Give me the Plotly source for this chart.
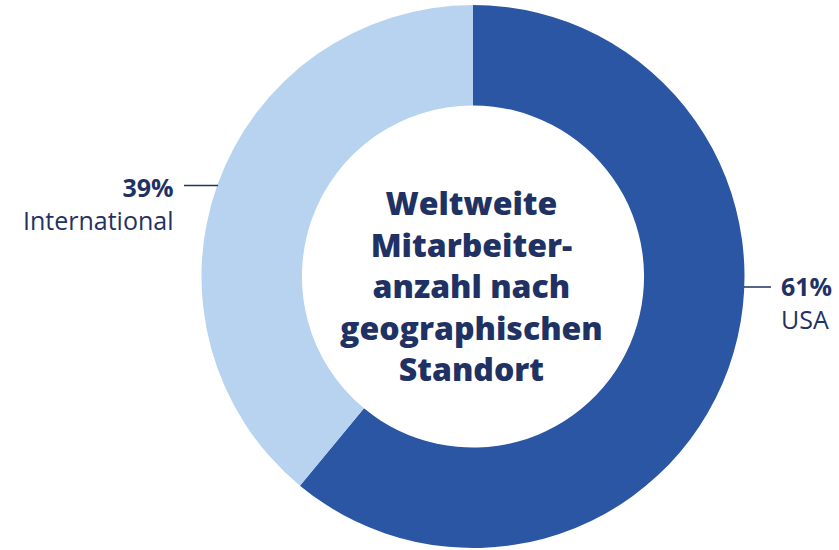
import plotly.graph_objects as go

categories = ["USA", "International"]
values = [61, 39]
pct_labels = ["61%", "39%"]
colors = ["#2b56a4", "#b8d3f0"]
title_lines = ["Weltweite", "Mitarbeiter-", "anzahl nach", "geographischen", "Standort"]

W, H = 839, 550
NAVY = "#1f3263"

fig = go.Figure(go.Pie(
    labels=categories, values=values, hole=0.63, sort=False,
    direction="clockwise", rotation=0, textinfo="none", hoverinfo="label+percent",
    marker=dict(colors=colors, line=dict(width=0)),
    domain=dict(x=[201.5 / W, 744.5 / W], y=[2 / H, 545 / H]),
    showlegend=False,
))

def px(x):
    return x / W

def py(y):
    return 1 - y / H

annotations = [
    dict(text="<br>".join(title_lines), x=px(471), y=py(285),
         font=dict(family="Open Sans", size=32, color=NAVY, weight=800), showarrow=False,
         xanchor="center", yanchor="middle", align="center"),
    dict(text="<b>" + pct_labels[1] + "</b><br>" + categories[1], x=px(176), y=py(203),
         showarrow=False, xanchor="right", yanchor="middle", align="right",
         font=dict(family="Open Sans", size=25, color=NAVY)),
    dict(text="<b>" + pct_labels[0] + "</b><br>" + categories[0], x=px(779), y=py(302),
         showarrow=False, xanchor="left", yanchor="middle", align="left",
         font=dict(family="Open Sans", size=25, color=NAVY)),
]

shapes = [
    dict(type="line", xref="paper", yref="paper", x0=px(184), x1=px(218), y0=py(185.5), y1=py(185.5),
         line=dict(color=NAVY, width=1.5)),
    dict(type="line", xref="paper", yref="paper", x0=px(744), x1=px(771), y0=py(287), y1=py(287),
         line=dict(color=NAVY, width=1.5)),
]

fig.update_layout(width=W, height=H, margin=dict(l=0, r=0, t=0, b=0),
                  paper_bgcolor="white", plot_bgcolor="white",
                  annotations=annotations, shapes=shapes)

fig.write_html("out.html", config={"displayModeBar": False},
               post_script="document.body.style.margin='0';document.body.style.padding='0';")
